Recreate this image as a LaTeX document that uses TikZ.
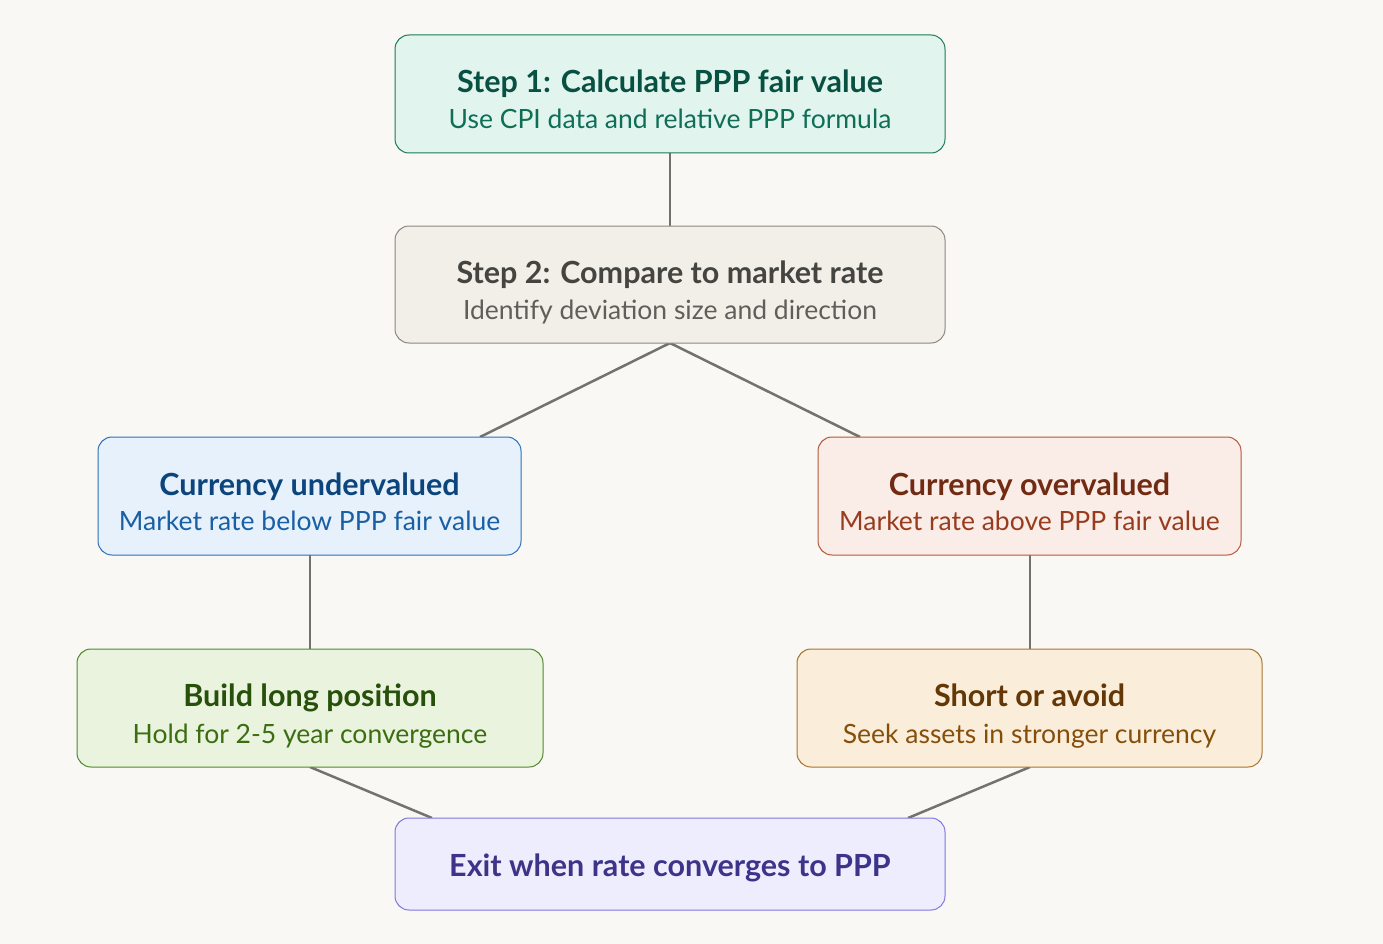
\documentclass[tikz,border=0pt]{standalone}
\usepackage{fontspec}
\setmainfont{Lato}
\definecolor{bg}{HTML}{F9F8F5}
\definecolor{ln}{HTML}{73726C}
\definecolor{gF}{HTML}{E1F5EE}\definecolor{gD}{HTML}{1D7A5A}\definecolor{gT}{HTML}{085041}\definecolor{gS}{HTML}{0F6E56}
\definecolor{nF}{HTML}{F1EFE8}\definecolor{nD}{HTML}{8A8880}\definecolor{nT}{HTML}{444441}\definecolor{nS}{HTML}{5F5E5A}
\definecolor{bF}{HTML}{E6F1FB}\definecolor{bD}{HTML}{2E6FB8}\definecolor{bT}{HTML}{0C447C}\definecolor{bS}{HTML}{185FA5}
\definecolor{rF}{HTML}{FAECE7}\definecolor{rD}{HTML}{B5573C}\definecolor{rT}{HTML}{712B13}\definecolor{rS}{HTML}{993C1D}
\definecolor{lF}{HTML}{EAF3DE}\definecolor{lD}{HTML}{4E8A2A}\definecolor{lT}{HTML}{27500A}\definecolor{lS}{HTML}{3B6D11}
\definecolor{oF}{HTML}{FAEEDA}\definecolor{oD}{HTML}{A8732E}\definecolor{oT}{HTML}{633806}\definecolor{oS}{HTML}{854F0B}
\definecolor{pF}{HTML}{EEEDFE}\definecolor{pD}{HTML}{7F77DD}\definecolor{pT}{HTML}{3C3489}
\tikzset{
  card/.style={draw, line width=1pt, rounded corners=14pt, inner sep=0pt},
  ttl/.style={font=\fontsize{30.5}{34}\selectfont\bfseries, anchor=base, inner sep=0pt},
  sub/.style={font=\fontsize{26.5}{30}\selectfont, anchor=base, inner sep=0pt},
  conn/.style={draw=ln, line width=2.5pt}
}
\begin{document}
\begin{tikzpicture}[x=1pt,y=-1pt]
\useasboundingbox[fill=bg] (0,0) rectangle (1383,944);
% connectors first
\coordinate (s1b) at (670,153);
\coordinate (s2t) at (670,226);
\coordinate (s2b) at (670,343);
\coordinate (ut) at (480,437);
\coordinate (ot) at (860,437);
\coordinate (ub) at (310,555);
\coordinate (lt) at (310,649);
\coordinate (ob) at (1030,555);
\coordinate (st) at (1030,649);
\coordinate (lb) at (310,767);
\coordinate (sb) at (1030,767);
\coordinate (el) at (432,818);
\coordinate (er) at (908,818);
\draw[conn] (s1b) -- (s2t);
\draw[conn] (s2b) -- (ut);
\draw[conn] (s2b) -- (ot);
\draw[conn] (ub) -- (lt);
\draw[conn] (ob) -- (st);
\draw[conn] (lb) -- (el);
\draw[conn] (sb) -- (er);
% boxes
\path[card, fill=gF, draw=gD] (395,35) rectangle (945,153);
\node[ttl, text=gT] (t1) at (670,93) {Step 1: Calculate PPP fair value};
\node[sub, text=gS] (u1) at (670,129) {Use CPI data and relative PPP formula};

\path[card, fill=nF, draw=nD] (395,226) rectangle (945,343);
\node[ttl, text=nT] (t2) at (670,283) {Step 2: Compare to market rate};
\node[sub, text=nS] (u2) at (670,319) {Identify deviation size and direction};

\path[card, fill=bF, draw=bD] (98,437) rectangle (521,555);
\node[ttl, text=bT] (t3) at (309.5,495) {Currency undervalued};
\node[sub, text=bS] (u3) at (309.5,530) {Market rate below PPP fair value};

\path[card, fill=rF, draw=rD] (818,437) rectangle (1241,555);
\node[ttl, text=rT] (t4) at (1029.5,495) {Currency overvalued};
\node[sub, text=rS] (u4) at (1029.5,530) {Market rate above PPP fair value};

\path[card, fill=lF, draw=lD] (77,649) rectangle (543,767);
\node[ttl, text=lT] (t5) at (310,706) {Build long position};
\node[sub, text=lS] (u5) at (310,743) {Hold for 2-5 year convergence};

\path[card, fill=oF, draw=oD] (797,649) rectangle (1262,767);
\node[ttl, text=oT] (t6) at (1029.5,706) {Short or avoid};
\node[sub, text=oS] (u6) at (1029.5,743) {Seek assets in stronger currency};

\path[card, fill=pF, draw=pD] (395,818) rectangle (945,910);
\node[ttl, text=pT] (t7) at (670,876) {Exit when rate converges to PPP};
\end{tikzpicture}
\end{document}
